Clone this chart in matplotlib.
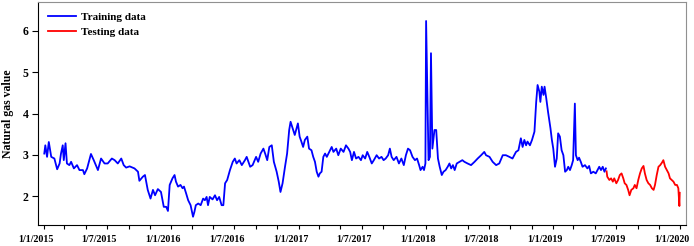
import pandas as pd
import matplotlib
matplotlib.use("Agg")
import matplotlib.pyplot as plt
import matplotlib.dates as mdates
import matplotlib.transforms as mtransforms
from matplotlib.ticker import FuncFormatter

train_dates = [
    "2015-01-02", "2015-01-05", "2015-01-10", "2015-01-15", "2015-01-22", "2015-01-31",
    "2015-02-08", "2015-02-15", "2015-02-19", "2015-02-24", "2015-02-27", "2015-03-04",
    "2015-03-08", "2015-03-15", "2015-03-20", "2015-03-28", "2015-04-06", "2015-04-13",
    "2015-04-23", "2015-04-27", "2015-05-05", "2015-05-16", "2015-05-24", "2015-06-05",
    "2015-06-14", "2015-06-24", "2015-07-03", "2015-07-15", "2015-07-23", "2015-08-01",
    "2015-08-11", "2015-08-18", "2015-08-25", "2015-09-04", "2015-09-18", "2015-09-28",
    "2015-10-02", "2015-10-12", "2015-10-18", "2015-10-26", "2015-11-03", "2015-11-10",
    "2015-11-16", "2015-11-24", "2015-12-03", "2015-12-11", "2015-12-18", "2015-12-23",
    "2015-12-28", "2016-01-05", "2016-01-11", "2016-01-15", "2016-01-21", "2016-01-28",
    "2016-02-03", "2016-02-07", "2016-02-13", "2016-02-19", "2016-02-26", "2016-03-04",
    "2016-03-08", "2016-03-12", "2016-03-19", "2016-03-26", "2016-04-02", "2016-04-07",
    "2016-04-12", "2016-04-16", "2016-04-21", "2016-04-29", "2016-05-06", "2016-05-12",
    "2016-05-18", "2016-05-25", "2016-05-30", "2016-06-04", "2016-06-10", "2016-06-18",
    "2016-06-26", "2016-07-02", "2016-07-07", "2016-07-15", "2016-07-22", "2016-07-31",
    "2016-08-05", "2016-08-15", "2016-08-22", "2016-09-01", "2016-09-07", "2016-09-14",
    "2016-09-22", "2016-09-27", "2016-10-03", "2016-10-09", "2016-10-16", "2016-10-22",
    "2016-10-30", "2016-11-05", "2016-11-10", "2016-11-16", "2016-11-23", "2016-11-29",
    "2016-12-05", "2016-12-09", "2016-12-15", "2016-12-21", "2016-12-26", "2016-12-30",
    "2017-01-04", "2017-01-09", "2017-01-14", "2017-01-19", "2017-01-26", "2017-01-31",
    "2017-02-07", "2017-02-12", "2017-02-17", "2017-02-22", "2017-02-27", "2017-03-03",
    "2017-03-08", "2017-03-13", "2017-03-18", "2017-03-23", "2017-03-30", "2017-04-06",
    "2017-04-11", "2017-04-19", "2017-04-25", "2017-05-02", "2017-05-10", "2017-05-17",
    "2017-05-24", "2017-05-29", "2017-06-03", "2017-06-09", "2017-06-15", "2017-06-22",
    "2017-06-29", "2017-07-04", "2017-07-11", "2017-07-17", "2017-07-23", "2017-07-30",
    "2017-08-05", "2017-08-13", "2017-08-20", "2017-08-27", "2017-09-02", "2017-09-08",
    "2017-09-15", "2017-09-20", "2017-09-25", "2017-10-01", "2017-10-09", "2017-10-16",
    "2017-10-23", "2017-10-30", "2017-11-05", "2017-11-11", "2017-11-17", "2017-11-24",
    "2017-12-01", "2017-12-07", "2017-12-13", "2017-12-17", "2017-12-23", "2017-12-27",
    "2017-12-31", "2018-01-02", "2018-01-09", "2018-01-13", "2018-01-16", "2018-01-20",
    "2018-01-26", "2018-01-31", "2018-02-05", "2018-02-10", "2018-02-16", "2018-02-21",
    "2018-02-27", "2018-03-05", "2018-03-10", "2018-03-15", "2018-03-20", "2018-03-25",
    "2018-03-31", "2018-04-08", "2018-04-16", "2018-04-22", "2018-05-01", "2018-05-11",
    "2018-05-21", "2018-05-30", "2018-06-09", "2018-06-18", "2018-06-23", "2018-07-03",
    "2018-07-12", "2018-07-22", "2018-07-31", "2018-08-10", "2018-08-19", "2018-08-29",
    "2018-09-07", "2018-09-17", "2018-09-24", "2018-10-01", "2018-10-06", "2018-10-11",
    "2018-10-16", "2018-10-20", "2018-10-27", "2018-11-02", "2018-11-09", "2018-11-14",
    "2018-11-18", "2018-11-23", "2018-11-26", "2018-11-30", "2018-12-05", "2018-12-08",
    "2018-12-13", "2018-12-18", "2018-12-25", "2018-12-29", "2019-01-02", "2019-01-07",
    "2019-01-12", "2019-01-16", "2019-01-21", "2019-01-26", "2019-01-31", "2019-02-05",
    "2019-02-10", "2019-02-14", "2019-02-19", "2019-02-24", "2019-02-28", "2019-03-05",
    "2019-03-08", "2019-03-13", "2019-03-17", "2019-03-22", "2019-03-27", "2019-04-03",
    "2019-04-10", "2019-04-15", "2019-04-20", "2019-04-27", "2019-05-04", "2019-05-09",
    "2019-05-14", "2019-05-19", "2019-05-24", "2019-05-29", "2019-06-02",
]
train_values = [
    3.03, 3.23, 2.95, 3.31, 2.95, 2.91,
    2.65, 2.79, 3.03, 3.23, 2.87, 3.28,
    2.79, 2.75, 2.83, 2.67, 2.75, 2.63,
    2.63, 2.53, 2.67, 3.02, 2.87, 2.63,
    2.91, 2.79, 2.79, 2.91, 2.87, 2.79,
    2.91, 2.75, 2.69, 2.72, 2.67, 2.59,
    2.37, 2.47, 2.51, 2.15, 1.94, 2.15,
    2.02, 2.17, 2.10, 1.74, 1.74, 1.64,
    2.27, 2.43, 2.51, 2.35, 2.23, 2.27,
    2.19, 2.23, 2.07, 1.90, 1.78, 1.50,
    1.62, 1.78, 1.82, 1.78, 1.94, 1.90,
    1.98, 1.78, 1.98, 1.92, 2.02, 1.90,
    1.98, 1.78, 1.78, 2.31, 2.39, 2.63,
    2.83, 2.91, 2.79, 2.87, 2.75, 2.87,
    2.95, 2.71, 2.75, 2.95, 2.83, 3.03,
    3.15, 3.03, 2.87, 3.19, 3.23, 2.83,
    2.59, 2.35, 2.10, 2.31, 2.71, 3.03,
    3.60, 3.80, 3.64, 3.48, 3.64, 3.76,
    3.44, 3.32, 3.19, 3.36, 3.44, 3.15,
    3.11, 2.95, 2.83, 2.59, 2.47, 2.55,
    2.59, 2.95, 3.03, 2.95, 3.07, 3.19,
    3.07, 3.15, 2.99, 3.15, 3.07, 3.23,
    3.15, 3.07, 2.87, 3.07, 2.91, 2.95,
    2.87, 2.99, 2.91, 3.07, 2.95, 2.79,
    2.87, 2.99, 2.91, 2.95, 2.87, 2.91,
    2.99, 3.15, 2.95, 2.87, 2.95, 2.79,
    2.91, 2.75, 2.99, 3.15, 3.11, 2.95,
    2.87, 2.91, 2.75, 2.63, 2.71, 2.63,
    2.79, 6.24, 2.87, 2.95, 5.46, 3.15,
    3.60, 3.60, 2.91, 2.71, 2.51, 2.59,
    2.63, 2.71, 2.79, 2.67, 2.75, 2.63,
    2.79, 2.83, 2.87, 2.83, 2.79, 2.75,
    2.83, 2.91, 2.99, 3.07, 2.99, 2.95,
    2.83, 2.75, 2.79, 2.99, 2.99, 2.95,
    2.91, 3.07, 3.11, 3.40, 3.19, 3.36,
    3.23, 3.32, 3.23, 3.36, 3.56, 4.28,
    4.69, 4.53, 4.28, 4.65, 4.45, 4.65,
    4.36, 4.04, 3.64, 3.36, 3.15, 2.71,
    2.91, 3.52, 3.44, 3.11, 2.99, 2.59,
    2.63, 2.71, 2.63, 2.75, 2.87, 4.24,
    2.99, 2.87, 2.93, 2.83, 2.71, 2.75,
    2.67, 2.73, 2.55, 2.59, 2.55, 2.63,
    2.71, 2.63, 2.71, 2.59, 2.67,
]

test_dates = [
    "2019-06-04", "2019-06-06", "2019-06-12", "2019-06-17", "2019-06-22", "2019-06-26",
    "2019-07-02", "2019-07-07", "2019-07-12", "2019-07-17", "2019-07-22", "2019-07-26",
    "2019-07-31", "2019-08-05", "2019-08-09", "2019-08-14", "2019-08-20", "2019-08-24",
    "2019-08-29", "2019-09-03", "2019-09-08", "2019-09-13", "2019-09-18", "2019-09-22",
    "2019-09-27", "2019-10-02", "2019-10-07", "2019-10-12", "2019-10-17", "2019-10-21",
    "2019-10-26", "2019-10-31", "2019-11-05", "2019-11-10", "2019-11-14", "2019-11-19",
    "2019-11-24", "2019-11-29", "2019-12-03", "2019-12-08", "2019-12-13", "2019-12-18",
    "2019-12-23", "2019-12-27", "2019-12-30", "2019-12-31",
]
test_values = [
    2.60, 2.47, 2.39, 2.43, 2.35, 2.43,
    2.31, 2.39, 2.51, 2.55, 2.43, 2.31,
    2.27, 2.15, 2.02, 2.15, 2.19, 2.27,
    2.19, 2.39, 2.55, 2.67, 2.73, 2.55,
    2.39, 2.31, 2.27, 2.19, 2.15, 2.27,
    2.51, 2.71, 2.75, 2.81, 2.87, 2.71,
    2.63, 2.55, 2.43, 2.39, 2.35, 2.27,
    2.27, 2.19, 1.76, 2.08,
]

plt.rcParams["font.family"] = "Liberation Serif"
plt.rcParams["font.weight"] = "bold"

fig = plt.figure(figsize=(6.94, 2.46), dpi=100)
ax = fig.add_axes([38 / 694, 1 - 225 / 246, 648 / 694, 223 / 246])

ax.plot(pd.to_datetime(train_dates), train_values, color="#0000ff", lw=1.3, label="Training data")
ax.plot(pd.to_datetime(test_dates), test_values, color="#ff0000", lw=1.3, label="Testing data")

ax.set_xlim(pd.Timestamp("2014-12-15"), pd.Timestamp("2020-01-18"))
ax.set_ylim(1.3, 6.7)
ax.set_yticks([2, 3, 4, 5, 6])

ax.xaxis.set_major_locator(mdates.MonthLocator(bymonth=[1, 7]))
ax.xaxis.set_minor_locator(mdates.MonthLocator(bymonth=[3, 5, 9, 11]))
ax.xaxis.set_major_formatter(FuncFormatter(
    lambda v, pos: "{0.day}/{0.month}/{0.year}".format(mdates.num2date(v))))
ax.tick_params(axis="x", which="both", direction="out", length=3, width=0.8, labelsize=7.2, pad=4)
ax.tick_params(axis="y", direction="out", length=4, width=0.8, labelsize=8.5, pad=3)

# labels in the reference sit a bit left of their ticks
shift = mtransforms.ScaledTranslation(-0.08, 0, fig.dpi_scale_trans)
for lbl in ax.get_xticklabels():
    lbl.set_transform(lbl.get_transform() + shift)

for side in ["top", "right"]:
    ax.spines[side].set_color("#909090")
ax.spines["left"].set_color("black")
ax.spines["bottom"].set_color("black")

ax.set_ylabel("Natural gas value", fontsize=8.5, fontweight="bold", labelpad=6)
ax.legend(loc="upper left", frameon=False, handlelength=2.5, handletextpad=0.5,
          borderaxespad=0.5, labelspacing=0.45, prop={"weight": "bold", "size": 8})

fig.savefig("out.png", dpi=100)
